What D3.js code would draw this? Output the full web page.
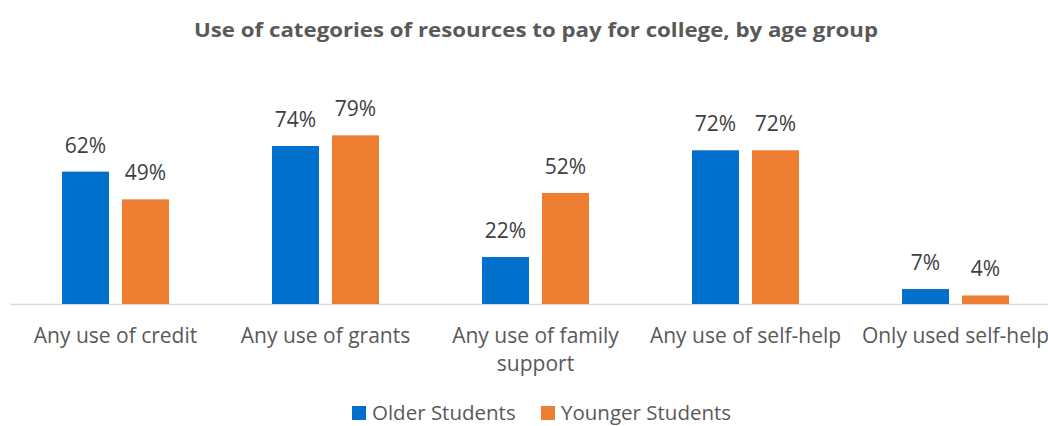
<!DOCTYPE html>
<html>
<head>
<meta charset="utf-8">
<script src="https://cdn.jsdelivr.net/npm/d3@7"></script>
<style>
  html, body { margin: 0; padding: 0; background: #fff; overflow: hidden; }
  svg { display: block; }
</style>
</head>
<body>
<svg id="chart" width="1048" height="426"></svg>
<script>
// Share of students using each resource category, by age group (percent)
const categories = [
  ["Any use of credit"],
  ["Any use of grants"],
  ["Any use of family", "support"],
  ["Any use of self-help"],
  ["Only used self-help"]
];
const seriesNames = ["Older Students", "Younger Students"];
const olderValues = [62, 74, 22, 72, 7];
const youngerValues = [49, 79, 52, 72, 4];
const seriesColors = ["#0070CC", "#ED7D31"];
const titleText = "Use of categories of resources to pay for college, by age group";

const svg = d3.select("#chart");
const font = "'Open Sans', 'Noto Sans', sans-serif";

const catKeys = categories.map(c => c.join(" "));
const baseY = 304;
const topY = 90.5; // y position of 100%

const x0 = d3.scaleBand().domain(catKeys).range([10.5, 1060.5]).padding(0);
const x1 = d3.scaleBand().domain(seriesNames).range([51.5, 158.5])
  .paddingInner(2 - 107 / 60).paddingOuter(0);
const y = d3.scaleLinear().domain([0, 100]).range([baseY, topY]);

// Title
svg.append("text")
  .attr("x", 536).attr("y", 37)
  .attr("text-anchor", "middle")
  .attr("font-family", font)
  .attr("font-weight", "bold")
  .attr("font-size", 20)
  .attr("fill", "#595959")
  .attr("textLength", 684)
  .attr("lengthAdjust", "spacingAndGlyphs")
  .text(titleText);

// Category axis line
svg.append("line")
  .attr("x1", 10.5).attr("x2", 1060.5)
  .attr("y1", baseY + 0.5).attr("y2", baseY + 0.5)
  .attr("stroke", "#D9D9D9").attr("stroke-width", 1.3);

const rows = catKeys.map((k, i) => ({
  key: k,
  values: [olderValues[i], youngerValues[i]]
}));

const groups = svg.selectAll("g.cat").data(rows).join("g")
  .attr("class", "cat")
  .attr("transform", d => `translate(${x0(d.key)},0)`);

const cells = groups.selectAll("g.bar")
  .data(d => d.values.map((v, j) => ({ series: seriesNames[j], value: v, j })))
  .join("g").attr("class", "bar");

cells.append("rect")
  .attr("x", d => x1(d.series))
  .attr("width", x1.bandwidth())
  .attr("y", d => y(d.value))
  .attr("height", d => baseY - y(d.value))
  .attr("fill", d => seriesColors[d.j]);

cells.append("text")
  .attr("x", d => x1(d.series) + x1.bandwidth() / 2)
  .attr("y", d => y(d.value) - 19)
  .attr("text-anchor", "middle")
  .attr("font-family", font)
  .attr("font-size", 21)
  .attr("fill", "#404040")
  .text(d => d.value + "%");

// Category labels (wrapped where needed)
categories.forEach((lines, i) => {
  const cx = x0(catKeys[i]) + x0.bandwidth() / 2;
  const t = svg.append("text")
    .attr("text-anchor", "middle")
    .attr("font-family", font)
    .attr("font-size", 21)
    .attr("fill", "#595959");
  lines.forEach((ln, k) => {
    t.append("tspan").attr("x", cx).attr("y", 343 + k * 28).text(ln);
  });
});

// Legend
const legendItems = [
  { name: seriesNames[0], color: seriesColors[0], x: 352 },
  { name: seriesNames[1], color: seriesColors[1], x: 541 }
];
const lg = svg.selectAll("g.legend").data(legendItems).join("g")
  .attr("class", "legend")
  .attr("transform", d => `translate(${d.x},406)`);
lg.append("rect").attr("width", 14).attr("height", 14).attr("fill", d => d.color);
lg.append("text")
  .attr("x", 20).attr("y", 14)
  .attr("font-family", font)
  .attr("font-size", 20.5)
  .attr("fill", "#595959")
  .text(d => d.name);
</script>
</body>
</html>
